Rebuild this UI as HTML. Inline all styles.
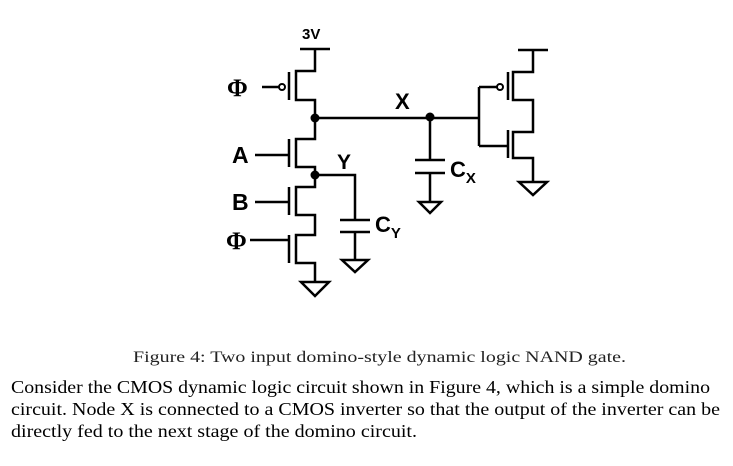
<!DOCTYPE html>
<html><head><style>body{margin:0;background:#fff}svg{display:block}</style></head><body>
<svg width="733" height="466" viewBox="0 0 733 466" xmlns="http://www.w3.org/2000/svg">
<g fill="none" stroke="#000" stroke-width="2.5" stroke-linejoin="miter">
<path d="M300 49H330M315 49V71H296V100H315V118"/>
<path d="M289 72V100"/>
<path d="M262 87H279"/>
<circle cx="282" cy="87" r="3" stroke-width="2"/>
<path d="M315 118H479"/>
<path d="M315 118V139H296V167H315V175"/>
<path d="M289 139V167M255 155H289"/>
<path d="M315 175H355V220M340 220H370M340 232H370M355 232V260"/>
<path d="M342 260H368L355 272Z"/>
<path d="M315 175V187H296V215H315V235H296V263H315V282"/>
<path d="M289 187V215M255 202H289"/>
<path d="M289 235V263M250 240H289"/>
<path d="M301 282H329L315 296Z"/>
<path d="M430 117V160M415 160H445M415 173H445M430 173V202"/>
<path d="M419 202H441L430 213Z"/>
<path d="M479 87V146M479 87H497M479 146H508"/>
<circle cx="500" cy="87" r="3" stroke-width="2"/>
<path d="M508 72V100M508 130V158"/>
<path d="M518 50H548M533 50V72H513V100H533V132H513V158H533V182"/>
<path d="M519 182H547L533 195Z"/>
</g>
<circle cx="315" cy="118" r="4.5"/>
<circle cx="315" cy="175" r="4.5"/>
<circle cx="430" cy="117" r="4.5"/>
<g font-family="Liberation Sans, sans-serif" font-weight="bold">
<text x="302" y="39" font-size="15">3V</text>
<text x="395" y="109" font-size="22">X</text>
<text x="337" y="169" font-size="21">Y</text>
<text x="232" y="163" font-size="23">A</text>
<text x="232" y="210" font-size="23">B</text>
<text x="450" y="177" font-size="22">C<tspan font-size="15" dy="6">X</tspan></text>
<text x="375" y="232" font-size="22">C<tspan font-size="15" dy="6">Y</tspan></text>
</g>
<g font-family="Liberation Serif, serif" font-size="25" font-weight="bold">
<text x="227" y="96">Φ</text>
<text x="226" y="249">Φ</text>
</g>
<g font-family="Liberation Serif, serif" fill="#000">
<text x="133" y="362" font-size="16" textLength="493" lengthAdjust="spacingAndGlyphs" fill="#222">Figure 4: Two input domino-style dynamic logic NAND gate.</text>
<text x="11" y="393" font-size="17.5" textLength="699" lengthAdjust="spacingAndGlyphs">Consider the CMOS dynamic logic circuit shown in Figure 4, which is a simple domino</text>
<text x="11" y="415" font-size="17.5" textLength="709" lengthAdjust="spacingAndGlyphs">circuit. Node X is connected to a CMOS inverter so that the output of the inverter can be</text>
<text x="11" y="437" font-size="17.5" textLength="406" lengthAdjust="spacingAndGlyphs">directly fed to the next stage of the domino circuit.</text>
</g>
</svg>
</body></html>
